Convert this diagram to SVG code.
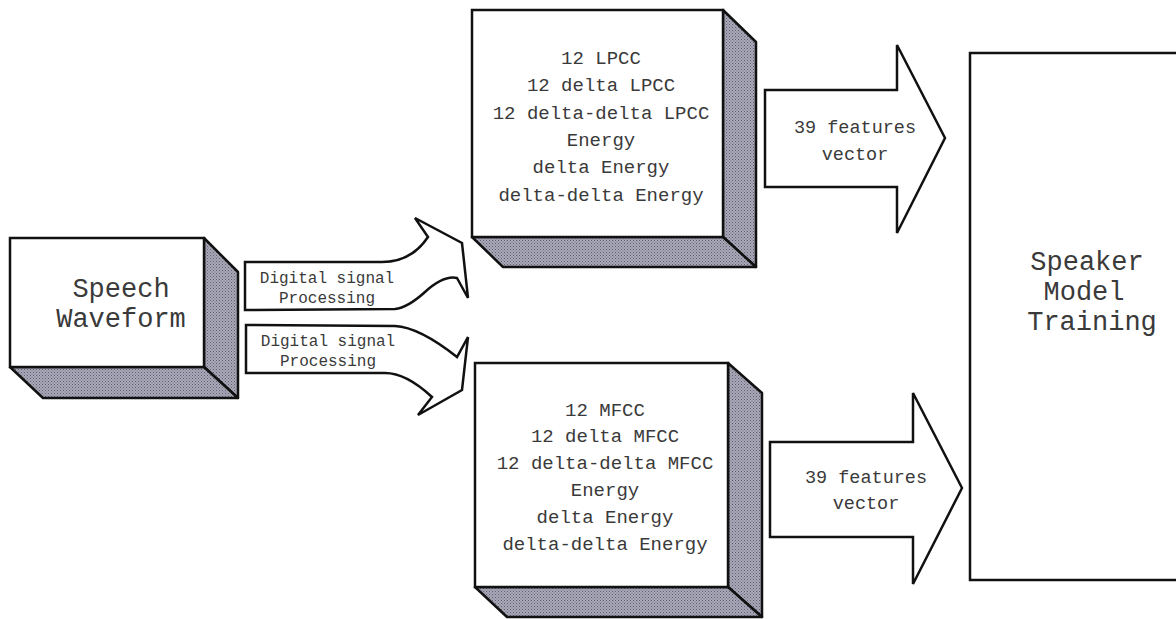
<svg xmlns="http://www.w3.org/2000/svg" width="1176" height="619" viewBox="0 0 1176 619">
<defs>
<pattern id="hatch" width="3" height="3" patternUnits="userSpaceOnUse">
<rect width="3" height="3" fill="#a8a8b8"/>
<rect width="1" height="1" fill="#5e5e70"/>
<rect x="1.5" y="1.5" width="1" height="1" fill="#70707f"/>
</pattern>
</defs>
<style>
.face{fill:#fff;stroke:#111;stroke-width:2.5;stroke-linejoin:miter}
.shade{fill:url(#hatch);stroke:#111;stroke-width:2.5;stroke-linejoin:round}
.arrow{fill:#fff;stroke:#111;stroke-width:2.5;stroke-linejoin:miter}
text{font-family:"Liberation Mono","Courier New",monospace;fill:#3a3a3a;text-anchor:middle}
.big{font-size:27px}
.mid{font-size:19px}
.feat{font-size:18.5px}
.small{font-size:16px}
</style>
<rect width="1176" height="619" fill="#fff"/>

<g id="speech-waveform">
<polygon class="shade" points="204,238 238,272 238,398 204,367"/>
<polygon class="shade" points="10,367 204,367 238,398 43,398"/>
<rect class="face" x="10" y="238" width="194" height="129"/>
<text class="big" x="121" y="297">Speech</text>
<text class="big" x="121" y="327">Waveform</text>
</g>

<g id="lpcc">
<polygon class="shade" points="723,10 756,42 756,267 723,237"/>
<polygon class="shade" points="472,237 723,237 756,267 503,267"/>
<rect class="face" x="472" y="10" width="251" height="227"/>
<text class="mid" x="601" y="64">12 LPCC</text>
<text class="mid" x="601" y="91">12 delta LPCC</text>
<text class="mid" x="601" y="119">12 delta-delta LPCC</text>
<text class="mid" x="601" y="146">Energy</text>
<text class="mid" x="601" y="173">delta Energy</text>
<text class="mid" x="601" y="201">delta-delta Energy</text>
</g>

<g id="mfcc">
<polygon class="shade" points="728,363 762,393 762,617 728,587"/>
<polygon class="shade" points="475,587 728,587 762,617 507,617"/>
<rect class="face" x="475" y="363" width="253" height="224"/>
<text class="mid" x="605" y="416">12 MFCC</text>
<text class="mid" x="605" y="442">12 delta MFCC</text>
<text class="mid" x="605" y="469">12 delta-delta MFCC</text>
<text class="mid" x="605" y="496">Energy</text>
<text class="mid" x="605" y="523">delta Energy</text>
<text class="mid" x="605" y="550">delta-delta Energy</text>
</g>

<g id="speaker-model-training">
<rect class="face" x="970" y="53" width="220" height="527"/>
<text class="big" x="1087" y="270">Speaker</text>
<text class="big" x="1084" y="300">Model</text>
<text class="big" x="1092" y="330">Training</text>
</g>

<g id="connectors">
<g id="dsp-upper">
<path class="arrow" d="M245,262 L382,262 C403,262 418,252 428,237 L415,218 L462,243 L468,298 L457,278 C448,276 436,282 425,292 C415,301 405,308 395,309 L245,310 Z"/>
<text class="small" x="327" y="283">Digital signal</text>
<text class="small" x="327" y="303">Processing</text>
</g>
<g id="dsp-lower">
<path class="arrow" d="M246,325 L395,326 C415,327 438,342 457,357 L468,337 L462,390 L418,415 L432,397 C418,384 402,373 385,373 L246,373 Z"/>
<text class="small" x="328" y="346">Digital signal</text>
<text class="small" x="328" y="366">Processing</text>
</g>
<g id="features-upper">
<polygon class="arrow" points="765,90 897,90 897,45 945,138 897,233 897,187 765,187"/>
<text class="feat" x="855" y="133">39 features</text>
<text class="feat" x="855" y="160">vector</text>
</g>
<g id="features-lower">
<polygon class="arrow" points="770,442 913,442 913,393 962,488 913,584 913,537 770,537"/>
<text class="feat" x="866" y="483">39 features</text>
<text class="feat" x="866" y="509">vector</text>
</g>
</g>
</svg>
